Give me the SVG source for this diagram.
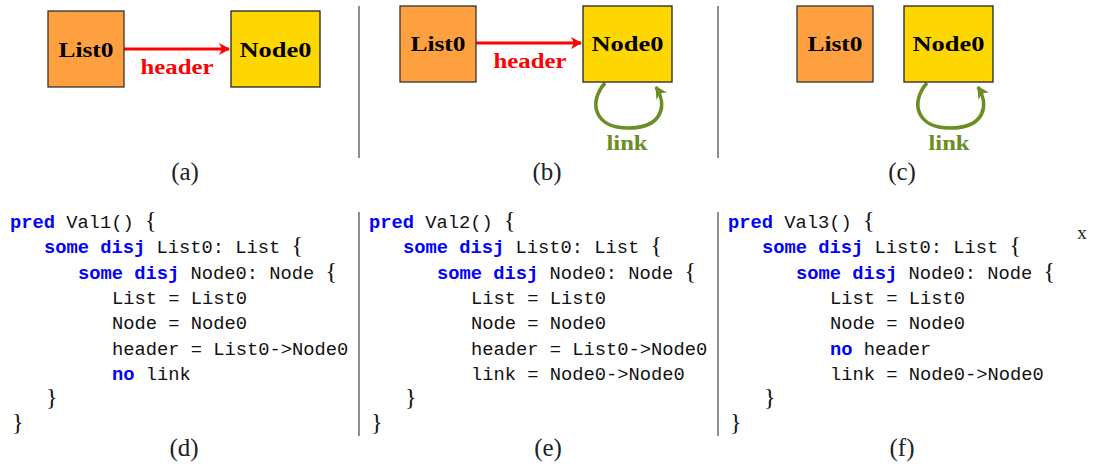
<svg xmlns="http://www.w3.org/2000/svg" width="1095" height="468" viewBox="0 0 1095 468">
  <defs>
    <marker id="arrRed" viewBox="0 0 12 12" refX="10" refY="6" markerWidth="12" markerHeight="12" markerUnits="userSpaceOnUse" orient="auto">
      <path d="M0,0 L11,6 L0,12 L3,6 Z" fill="#ff0000"/>
    </marker>
    <marker id="arrGreen" viewBox="0 0 12 12" refX="10" refY="6" markerWidth="13" markerHeight="13" markerUnits="userSpaceOnUse" orient="auto">
      <path d="M0,0 L11,6 L0,12 L3,6 Z" fill="#6b8e23"/>
    </marker>
  </defs>
  <style>
    .list { fill: #ffa040; stroke: #333; stroke-width: 1.3; }
    .node { fill: #ffd700; stroke: #222; stroke-width: 1.3; }
    .lbl { font-family: "Liberation Serif", serif; font-weight: bold; font-size: 22px; fill: #000; text-anchor: middle; }
    .hdr { font-family: "Liberation Serif", serif; font-weight: bold; font-size: 20px; fill: #ff0000; text-anchor: middle; }
    .lnk { font-family: "Liberation Serif", serif; font-weight: bold; font-size: 20px; fill: #6b8e23; text-anchor: middle; }
    .cap { font-family: "Liberation Serif", serif; font-size: 25px; fill: #222; text-anchor: middle; }
    .code { font-family: "Liberation Mono", monospace; font-size: 18.75px; fill: #111; }
    .kw { fill: #0000ff; font-weight: bold; }
    .br { font-family: "Liberation Serif", serif; font-size: 24px; }
    .sep { stroke: #444; stroke-width: 1.2; }
    .hedge { stroke: #ff0000; stroke-width: 3.2; fill: none; }
    .ledge { stroke: #6b8e23; stroke-width: 3.6; fill: none; }
  </style>

  <!-- panel separators -->
  <g id="separators">
    <line class="sep" x1="359" y1="6" x2="359" y2="158"/>
    <line class="sep" x1="718" y1="6" x2="718" y2="158"/>
    <line class="sep" x1="359" y1="212" x2="359" y2="436"/>
    <line class="sep" x1="718" y1="212" x2="718" y2="436"/>
  </g>

  <!-- connectors -->
  <g id="connectors">
    <path class="hedge" d="M124,49 L229,49" marker-end="url(#arrRed)"/>
    <text class="hdr" x="177" y="74" textLength="73" lengthAdjust="spacingAndGlyphs">header</text>

    <path class="hedge" d="M476,43 L581,43" marker-end="url(#arrRed)"/>
    <text class="hdr" x="530" y="68" textLength="73" lengthAdjust="spacingAndGlyphs">header</text>

    <path class="ledge" d="M605,83 C588,102 594,128 628,128 C664,128 667,104 656,87" marker-end="url(#arrGreen)"/>
    <text class="lnk" x="627" y="150" textLength="41" lengthAdjust="spacingAndGlyphs">link</text>

    <path class="ledge" d="M927,83 C910,102 916,128 950,128 C986,128 989,104 978,87" marker-end="url(#arrGreen)"/>
    <text class="lnk" x="949" y="150" textLength="41" lengthAdjust="spacingAndGlyphs">link</text>
  </g>

  <!-- panel (a) -->
  <g id="a-list0">
    <rect class="list" x="48" y="11" width="76" height="76"/>
    <text class="lbl" x="86" y="57" textLength="55" lengthAdjust="spacingAndGlyphs">List0</text>
  </g>
  <g id="a-node0">
    <rect class="node" x="231" y="11" width="89" height="76"/>
    <text class="lbl" x="275.5" y="57" textLength="72" lengthAdjust="spacingAndGlyphs">Node0</text>
  </g>

  <!-- panel (b) -->
  <g id="b-list0">
    <rect class="list" x="400" y="6" width="76" height="76"/>
    <text class="lbl" x="438" y="51" textLength="55" lengthAdjust="spacingAndGlyphs">List0</text>
  </g>
  <g id="b-node0">
    <rect class="node" x="583" y="6" width="89" height="76"/>
    <text class="lbl" x="627.5" y="51" textLength="72" lengthAdjust="spacingAndGlyphs">Node0</text>
  </g>

  <!-- panel (c) -->
  <g id="c-list0">
    <rect class="list" x="797" y="6" width="76" height="76"/>
    <text class="lbl" x="835" y="51" textLength="55" lengthAdjust="spacingAndGlyphs">List0</text>
  </g>
  <g id="c-node0">
    <rect class="node" x="904" y="6" width="89" height="76"/>
    <text class="lbl" x="948.5" y="51" textLength="72" lengthAdjust="spacingAndGlyphs">Node0</text>
  </g>

  <!-- captions -->
  <g id="captions">
    <text class="cap" x="185" y="180">(a)</text>
    <text class="cap" x="547" y="180">(b)</text>
    <text class="cap" x="902" y="180">(c)</text>
    <text class="cap" x="184" y="456">(d)</text>
    <text class="cap" x="548" y="456">(e)</text>
    <text class="cap" x="902" y="456">(f)</text>
    <text class="cap" x="1082" y="239" style="font-size:19px">x</text>
  </g>

  <!-- predicate Val1 -->
  <g id="code-d" class="code">
    <text x="10" y="228"><tspan class="kw">pred</tspan> Val1() <tspan class="br">{</tspan></text>
    <text x="44" y="253"><tspan class="kw">some</tspan> <tspan class="kw">disj</tspan> List0: List <tspan class="br">{</tspan></text>
    <text x="78" y="279"><tspan class="kw">some</tspan> <tspan class="kw">disj</tspan> Node0: Node <tspan class="br">{</tspan></text>
    <text x="112" y="304">List = List0</text>
    <text x="112" y="329">Node = Node0</text>
    <text x="112" y="355">header = List0-&gt;Node0</text>
    <text x="112" y="380"><tspan class="kw">no</tspan> link</text>
    <text x="46" y="405" class="br">}</text>
    <text x="12" y="430" class="br">}</text>
  </g>

  <!-- predicate Val2 -->
  <g id="code-e" class="code">
    <text x="369" y="228"><tspan class="kw">pred</tspan> Val2() <tspan class="br">{</tspan></text>
    <text x="403" y="253"><tspan class="kw">some</tspan> <tspan class="kw">disj</tspan> List0: List <tspan class="br">{</tspan></text>
    <text x="437" y="279"><tspan class="kw">some</tspan> <tspan class="kw">disj</tspan> Node0: Node <tspan class="br">{</tspan></text>
    <text x="471" y="304">List = List0</text>
    <text x="471" y="329">Node = Node0</text>
    <text x="471" y="355">header = List0-&gt;Node0</text>
    <text x="471" y="380">link = Node0-&gt;Node0</text>
    <text x="405" y="405" class="br">}</text>
    <text x="371" y="430" class="br">}</text>
  </g>

  <!-- predicate Val3 -->
  <g id="code-f" class="code">
    <text x="728" y="228"><tspan class="kw">pred</tspan> Val3() <tspan class="br">{</tspan></text>
    <text x="762" y="253"><tspan class="kw">some</tspan> <tspan class="kw">disj</tspan> List0: List <tspan class="br">{</tspan></text>
    <text x="796" y="279"><tspan class="kw">some</tspan> <tspan class="kw">disj</tspan> Node0: Node <tspan class="br">{</tspan></text>
    <text x="830" y="304">List = List0</text>
    <text x="830" y="329">Node = Node0</text>
    <text x="830" y="355"><tspan class="kw">no</tspan> header</text>
    <text x="830" y="380">link = Node0-&gt;Node0</text>
    <text x="764" y="405" class="br">}</text>
    <text x="730" y="430" class="br">}</text>
  </g>
</svg>
